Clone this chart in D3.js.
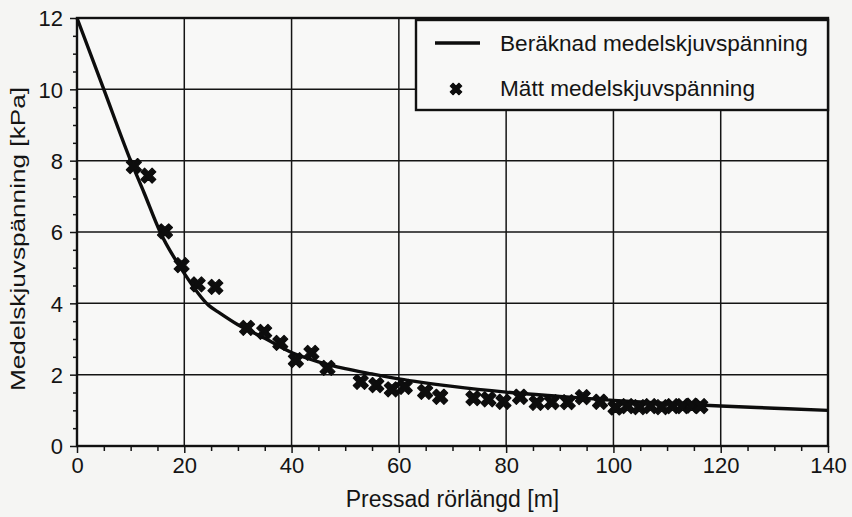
<!DOCTYPE html>
<html>
<head>
<meta charset="utf-8">
<script src="https://cdn.jsdelivr.net/npm/d3@7"></script>
<style>
  html, body { margin: 0; padding: 0; background: #f5f5f3; }
  svg { display: block; }
  text { font-family: Arial, "Liberation Sans", Helvetica, sans-serif; fill: #141414; }
</style>
</head>
<body>
<svg id="chart" width="852" height="517"></svg>
<script>
// Calculated mean shear stress along the jacked pipe
const curveX = [0, 5, 10, 12.5, 15.5, 20, 24.5, 26.7, 30, 35, 40, 45, 50, 55, 60, 70, 80, 90, 100, 110, 120, 130, 140];
const curveY = [12, 10, 8.0, 7.1, 6.0, 4.84, 3.95, 3.72, 3.4, 3.02, 2.62, 2.36, 2.17, 2.02, 1.88, 1.67, 1.51, 1.39, 1.28, 1.19, 1.12, 1.06, 1.0];

// Measured mean shear stress
const measuredX = [10.6, 13.3, 16.4, 19.5, 22.5, 25.8, 31.7, 34.9, 37.9, 40.8, 43.7, 46.7,
                   52.9, 55.8, 58.7, 61.1, 64.9, 67.7, 73.9, 76.7, 79.5, 82.6, 85.7, 88.5,
                   91.5, 94.3, 97.5, 100.4, 102.6, 104.8, 106.9, 109.0, 111.0, 112.9, 114.6, 116.2];
const measuredY = [7.85, 7.58, 6.02, 5.07, 4.53, 4.46, 3.31, 3.20, 2.89, 2.41, 2.61, 2.19,
                   1.80, 1.71, 1.59, 1.66, 1.52, 1.38, 1.34, 1.31, 1.24, 1.38, 1.21, 1.23,
                   1.23, 1.37, 1.24, 1.08, 1.12, 1.09, 1.12, 1.09, 1.12, 1.12, 1.13, 1.12];

const xTicks = [0, 20, 40, 60, 80, 100, 120, 140];
const yTicks = [0, 2, 4, 6, 8, 10, 12];
const xMinorTicks = d3.range(0, 141, 5).filter(v => v % 20 !== 0);
const yMinorTicks = d3.range(0, 12.01, 0.5).filter(v => v % 2 !== 0);

const legendLabels = ["Beräknad medelskjuvspänning", "Mätt medelskjuvspänning"];
const xTitle = "Pressad rörlängd [m]";
const yTitle = "Medelskjuvspänning [kPa]";

const svg = d3.select("#chart");
const plotLeft = 77, plotRight = 828, plotTop = 18, plotBottom = 446;

const x = d3.scaleLinear().domain([0, 140]).range([plotLeft, plotRight]);
const y = d3.scaleLinear().domain([0, 12]).range([plotBottom, plotTop]);

// plot background
svg.append("rect").attr("x", plotLeft).attr("y", plotTop)
  .attr("width", plotRight - plotLeft).attr("height", plotBottom - plotTop)
  .attr("fill", "#f8f8f7");

// grid
const grid = svg.append("g").attr("stroke", "#141414").attr("stroke-width", 1.5);
grid.selectAll(".gx").data(xTicks.slice(1, -1)).join("line")
  .attr("x1", d => x(d)).attr("x2", d => x(d)).attr("y1", plotTop).attr("y2", plotBottom);
grid.selectAll(".gy").data(yTicks.slice(1, -1)).join("line")
  .attr("y1", d => y(d)).attr("y2", d => y(d)).attr("x1", plotLeft).attr("x2", plotRight);

// axes
const fontSize = 22;
const xAxis = svg.append("g").attr("transform", `translate(0,${plotBottom})`)
  .call(d3.axisBottom(x).tickValues(xTicks).tickSize(7).tickPadding(4).tickFormat(d3.format("d")));
const xMinor = svg.append("g").attr("transform", `translate(0,${plotBottom})`)
  .call(d3.axisBottom(x).tickValues(xMinorTicks).tickSize(5).tickFormat(""));
const yAxis = svg.append("g").attr("transform", `translate(${plotLeft},0)`)
  .call(d3.axisLeft(y).tickValues(yTicks).tickSize(7).tickPadding(7).tickFormat(d3.format("d")));
const yMinor = svg.append("g").attr("transform", `translate(${plotLeft},0)`)
  .call(d3.axisLeft(y).tickValues(yMinorTicks).tickSize(4).tickFormat(""));

[xAxis, xMinor, yAxis, yMinor].forEach(g => {
  g.select(".domain").remove();
  g.selectAll(".tick line").attr("stroke", "#141414").attr("stroke-width", 1.5);
  g.selectAll(".tick text").attr("font-size", fontSize).attr("fill", "#141414")
    .style("font-family", "Arial, 'Liberation Sans', sans-serif");
});
yAxis.selectAll(".tick text").attr("dy", "0.36em");

// frame
svg.append("rect").attr("x", plotLeft).attr("y", plotTop)
  .attr("width", plotRight - plotLeft).attr("height", plotBottom - plotTop)
  .attr("fill", "none").attr("stroke", "#111").attr("stroke-width", 2.4);

// calculated curve
const line = d3.line().x(d => x(d[0])).y(d => y(d[1])).curve(d3.curveMonotoneX);
svg.append("path").datum(d3.zip(curveX, curveY))
  .attr("d", line).attr("fill", "none")
  .attr("stroke", "#0d0d0d").attr("stroke-width", 3.4).attr("stroke-linejoin", "round");

// measured points
const cross = d3.symbol().type(d3.symbolCross).size(140);
svg.append("g").selectAll("path").data(d3.zip(measuredX, measuredY)).join("path")
  .attr("d", cross)
  .attr("transform", d => `translate(${x(d[0])},${y(d[1])}) rotate(45)`)
  .attr("fill", "#0d0d0d").attr("stroke", "#0d0d0d")
  .attr("stroke-width", 1.2).attr("stroke-linejoin", "round");

// legend
const lg = svg.append("g");
lg.append("rect").attr("x", 416).attr("y", 20).attr("width", 412).attr("height", 90)
  .attr("fill", "#f8f8f7").attr("stroke", "#111").attr("stroke-width", 2.4);
lg.append("line").attr("x1", 435).attr("x2", 480).attr("y1", 43).attr("y2", 43)
  .attr("stroke", "#0d0d0d").attr("stroke-width", 3.4);
lg.append("path").attr("d", d3.symbol().type(d3.symbolCross).size(85))
  .attr("transform", "translate(456,89) rotate(45)")
  .attr("fill", "#0d0d0d").attr("stroke", "#0d0d0d").attr("stroke-width", 1).attr("stroke-linejoin", "round");
lg.selectAll("text").data(legendLabels).join("text")
  .attr("x", 500).attr("y", (d, i) => 51 + i * 45)
  .attr("font-size", 22.6).text(d => d);

// axis titles
svg.append("text").attr("x", (plotLeft + plotRight) / 2).attr("y", 507)
  .attr("text-anchor", "middle").attr("font-size", 23).text(xTitle);
svg.append("text")
  .attr("transform", "translate(25,239) rotate(-90)")
  .attr("text-anchor", "middle").attr("font-size", 21)
  .attr("textLength", 304).attr("lengthAdjust", "spacingAndGlyphs")
  .text(yTitle);
</script>
</body>
</html>
